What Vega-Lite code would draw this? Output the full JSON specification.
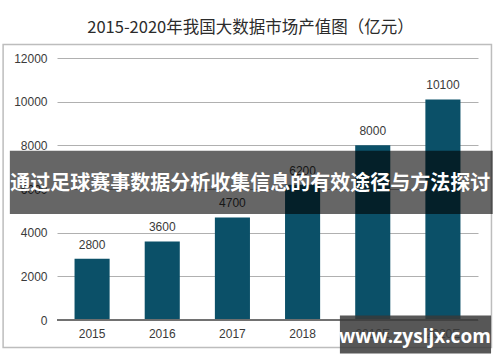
{
  "$schema": "https://vega.github.io/schema/vega-lite/v6.json",
  "autosize": {"type": "none"},
  "width": 421,
  "height": 262,
  "padding": {"left": 57, "top": 58, "right": 22, "bottom": 42},
  "background": "white",
  "config": {"view": {"stroke": null}, "font": "Liberation Sans"},
  "title": {
    "text": "2015-2020年我国大数据市场产值图（亿元）",
    "font": "Noto Sans CJK SC",
    "fontSize": 16.5,
    "fontWeight": "normal",
    "color": "#2b2b2b",
    "anchor": "middle",
    "dx": -17,
    "offset": 7
  },
  "datasets": {
    "bars": [
      {"year": "2015", "value": 2800},
      {"year": "2016", "value": 3600},
      {"year": "2017", "value": 4700},
      {"year": "2018", "value": 6200},
      {"year": "2019E", "value": 8000},
      {"year": "2020E", "value": 10100}
    ],
    "overlay": [
      {"banner": "通过足球赛事数据分析收集信息的有效途径与方法探讨", "watermark": "www.zysljx.com"}
    ]
  },
  "layer": [
    {
      "data": {"name": "bars"},
      "layer": [
        {
          "mark": {"type": "bar", "color": "#0b5068"},
          "encoding": {
            "x": {
              "field": "year", "type": "nominal", "sort": null,
              "scale": {"paddingInner": 0.5, "paddingOuter": 0.25},
              "axis": {
                "title": null, "domain": false, "ticks": false,
                "labelAngle": 0, "labelPadding": 8, "labelFontSize": 12,
                "labelColor": "#3a3a3a", "labelFontWeight": "normal"
              }
            },
            "y": {
              "field": "value", "type": "quantitative",
              "scale": {"domain": [0, 12000], "nice": false},
              "axis": {
                "title": null, "domain": false, "ticks": false,
                "values": [0, 2000, 4000, 6000, 8000, 10000, 12000],
                "format": "d", "labelPadding": 10, "labelFontSize": 12,
                "labelColor": "#3a3a3a", "labelFontWeight": "normal",
                "gridColor": "#b0b0b0", "gridWidth": 1
              }
            }
          }
        },
        {
          "mark": {"type": "rule", "color": "#707070", "strokeWidth": 1.2},
          "encoding": {"y": {"datum": 0, "type": "quantitative"}}
        },
        {
          "mark": {"type": "text", "dy": -14, "fontSize": 12, "fontWeight": "normal", "color": "#3a3a3a"},
          "encoding": {
            "x": {"field": "year", "type": "nominal", "sort": null},
            "y": {"field": "value", "type": "quantitative"},
            "text": {"field": "value", "type": "quantitative", "format": "d"}
          }
        }
      ]
    },
    {
      "data": {"name": "overlay"},
      "layer": [
        {
          "mark": {"type": "rect", "fill": null, "fillOpacity": 0, "stroke": "#bdbdbd", "strokeWidth": 1.5},
          "encoding": {
            "x": {"datum": -0.128, "type": "quantitative", "scale": {"domain": [0, 1], "nice": false, "zero": false}, "axis": null},
            "x2": {"datum": 1.032},
            "y": {"datum": 12620, "type": "quantitative"},
            "y2": {"datum": -1260}
          }
        },
        {
          "mark": {"type": "rect", "color": "black", "opacity": 0.6},
          "encoding": {
            "x": {"datum": -0.112, "type": "quantitative"},
            "x2": {"datum": 1.035},
            "y": {"datum": 7750, "type": "quantitative"},
            "y2": {"datum": 4860}
          }
        },
        {
          "mark": {"type": "text", "color": "white", "font": "Noto Sans CJK SC", "fontWeight": "bold", "fontSize": 20, "baseline": "middle", "align": "center"},
          "encoding": {
            "x": {"datum": 0.459, "type": "quantitative"},
            "y": {"datum": 6250, "type": "quantitative"},
            "text": {"field": "banner"}
          }
        },
        {
          "mark": {"type": "rect", "color": "#3a3a3a", "opacity": 0.85},
          "encoding": {
            "x": {"datum": 0.672, "type": "quantitative"},
            "x2": {"datum": 1.031},
            "y": {"datum": 206, "type": "quantitative"},
            "y2": {"datum": -1535}
          }
        },
        {
          "mark": {"type": "text", "color": "white", "font": "Open Sans", "fontWeight": "bold", "fontSize": 19, "baseline": "middle", "align": "center"},
          "encoding": {
            "x": {"datum": 0.85, "type": "quantitative"},
            "y": {"datum": -790, "type": "quantitative"},
            "text": {"field": "watermark"}
          }
        }
      ]
    }
  ],
  "resolve": {"scale": {"x": "independent"}}
}
